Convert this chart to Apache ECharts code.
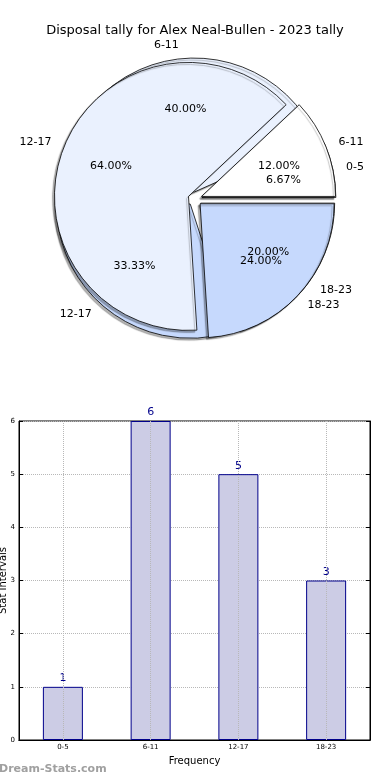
<!DOCTYPE html>
<html>
<head>
<meta charset="utf-8">
<script src="https://cdn.jsdelivr.net/npm/echarts@6/dist/echarts.min.js"></script>
<style>
html,body{margin:0;padding:0;background:#fff;}
#main{width:390px;height:780px;}
</style>
</head>
<body>
<div id="main"></div>
<script>
// ---- data ----
const categories = ['0-5', '6-11', '12-17', '18-23'];
const tallyValues = [1, 6, 5, 3];
const pieBNames = ['6-11', '12-17', '18-23'];
const pieBValues = [3, 16, 6];
const yTickMin = 0, yTickMax = 6, yTickStep = 1;
const titleText = 'Disposal tally for Alex Neal-Bullen - 2023 tally';

// ---- style ----
const FONT = 'DejaVu Sans';
const pieColors = ['#ffffff', '#eaf1fe', '#c6d9fd'];
const R = 134;
const CENTER = [195, 199];
const OFFSET = 7;

function pieData(names, values) {
  return names.map((n, i) => ({
    name: n, value: values[i], selected: true,
    itemStyle: { color: pieColors[i % pieColors.length] }
  }));
}

function mainPie(names, values) {
  return {
    type: 'pie', center: CENTER, radius: R, startAngle: 0, clockwise: false,
    selectedMode: 'multiple', selectedOffset: OFFSET, avoidLabelOverlap: false,
    animation: false, emphasis: { disabled: true }, silent: true,
    labelLayout: { hideOverlap: false },
    itemStyle: { borderColor: '#000', borderWidth: 0.8,
      shadowColor: 'rgba(0,0,0,0.3)', shadowBlur: 1, shadowOffsetX: -2, shadowOffsetY: 2 },
    label: { show: true, position: 'outside', formatter: '{b}', color: '#000',
      fontSize: 11, fontFamily: FONT, distanceToLabelLine: 0 },
    labelLine: { show: false, length: R * 0.1, length2: 0 },
    data: pieData(names, values)
  };
}

function pctPie(names, values) {
  return {
    type: 'pie', center: CENTER, radius: [R * 0.4, R * 0.8], startAngle: 0, clockwise: false,
    selectedMode: 'multiple', selectedOffset: OFFSET, avoidLabelOverlap: false,
    animation: false, emphasis: { disabled: true }, silent: true,
    labelLayout: { hideOverlap: false },
    itemStyle: { color: 'rgba(0,0,0,0)', borderWidth: 0 },
    label: { show: true, position: 'inside', color: '#000', fontSize: 11, fontFamily: FONT,
      formatter: p => p.percent.toFixed(2) + '%' },
    labelLine: { show: false },
    data: names.map((n, i) => ({ name: n, value: values[i], selected: true }))
  };
}

const chart = echarts.init(document.getElementById('main'), null, { renderer: 'canvas' });
chart.setOption({
  animation: false,
  backgroundColor: '#fff',
  title: {
    text: titleText, left: 'center', top: 19,
    textStyle: { fontFamily: FONT, fontSize: 13, fontWeight: 'normal', color: '#000' }
  },
  graphic: [{
    type: 'text', left: -1, top: 764,
    style: { text: 'Dream-Stats.com', fontFamily: FONT, fontSize: 11, fontWeight: 'bold', fill: '#a0a0a0' }
  }],
  grid: { left: 19, right: 20, top: 421, bottom: 40, containLabel: false, outerBoundsMode: 'none',
    show: true, borderColor: '#000', borderWidth: 1 },
  xAxis: [{
    type: 'category', data: categories, boundaryGap: true,
    name: 'Frequency', nameLocation: 'middle', nameGap: 16, nameMoveOverlap: false,
    nameTextStyle: { fontFamily: FONT, fontSize: 10, color: '#000' },
    axisLine: { lineStyle: { color: '#000' } },
    axisTick: { inside: true, alignWithLabel: true, length: 4, lineStyle: { color: '#000' } },
    axisLabel: { fontFamily: FONT, fontSize: 7, color: '#000', margin: 4 },
    splitLine: { show: false }
  }, {
    type: 'category', data: categories, position: 'top', boundaryGap: true,
    axisLine: { lineStyle: { color: '#000' } },
    axisTick: { inside: true, alignWithLabel: true, length: 4, lineStyle: { color: '#000' } },
    axisLabel: { show: false }
  }],
  yAxis: [{
    type: 'value', min: yTickMin, max: yTickMax, interval: yTickStep,
    name: 'Stat Intervals', nameLocation: 'middle', nameGap: 11, nameRotate: 90, nameMoveOverlap: false,
    nameTextStyle: { fontFamily: FONT, fontSize: 10, color: '#000' },
    axisLine: { show: true, lineStyle: { color: '#000' } },
    axisTick: { show: true, inside: true, length: 4, lineStyle: { color: '#000' } },
    axisLabel: { fontFamily: FONT, fontSize: 7, color: '#000', margin: 4 },
    splitLine: { show: true, lineStyle: { color: '#b8b8b8', type: 'dotted', width: 1 } }
  }, {
    type: 'value', min: yTickMin, max: yTickMax, interval: yTickStep, position: 'right',
    axisLine: { show: true, lineStyle: { color: '#000' } },
    axisTick: { show: true, inside: true, length: 4, lineStyle: { color: '#000' } },
    axisLabel: { show: false }, splitLine: { show: false }
  }],
  series: [
    mainPie(categories, tallyValues),
    mainPie(pieBNames, pieBValues),
    pctPie(categories, tallyValues),
    pctPie(pieBNames, pieBValues),
    {
      type: 'bar', xAxisIndex: 0, yAxisIndex: 0, data: tallyValues, barWidth: 40,
      itemStyle: { color: '#ccccE5', borderColor: '#00008b', borderWidth: 1 },
      label: { show: true, position: 'top', distance: 3, color: '#00008b', fontFamily: FONT, fontSize: 11 },
      labelLayout: { hideOverlap: false },
      emphasis: { disabled: true },
      markLine: {
        silent: true, symbol: ['none', 'none'], label: { show: false },
        lineStyle: { color: '#b8b8b8', type: 'dotted', width: 1 },
        data: categories.map(c => ({ xAxis: c }))
      }
    }
  ]
});
</script>
</body>
</html>
